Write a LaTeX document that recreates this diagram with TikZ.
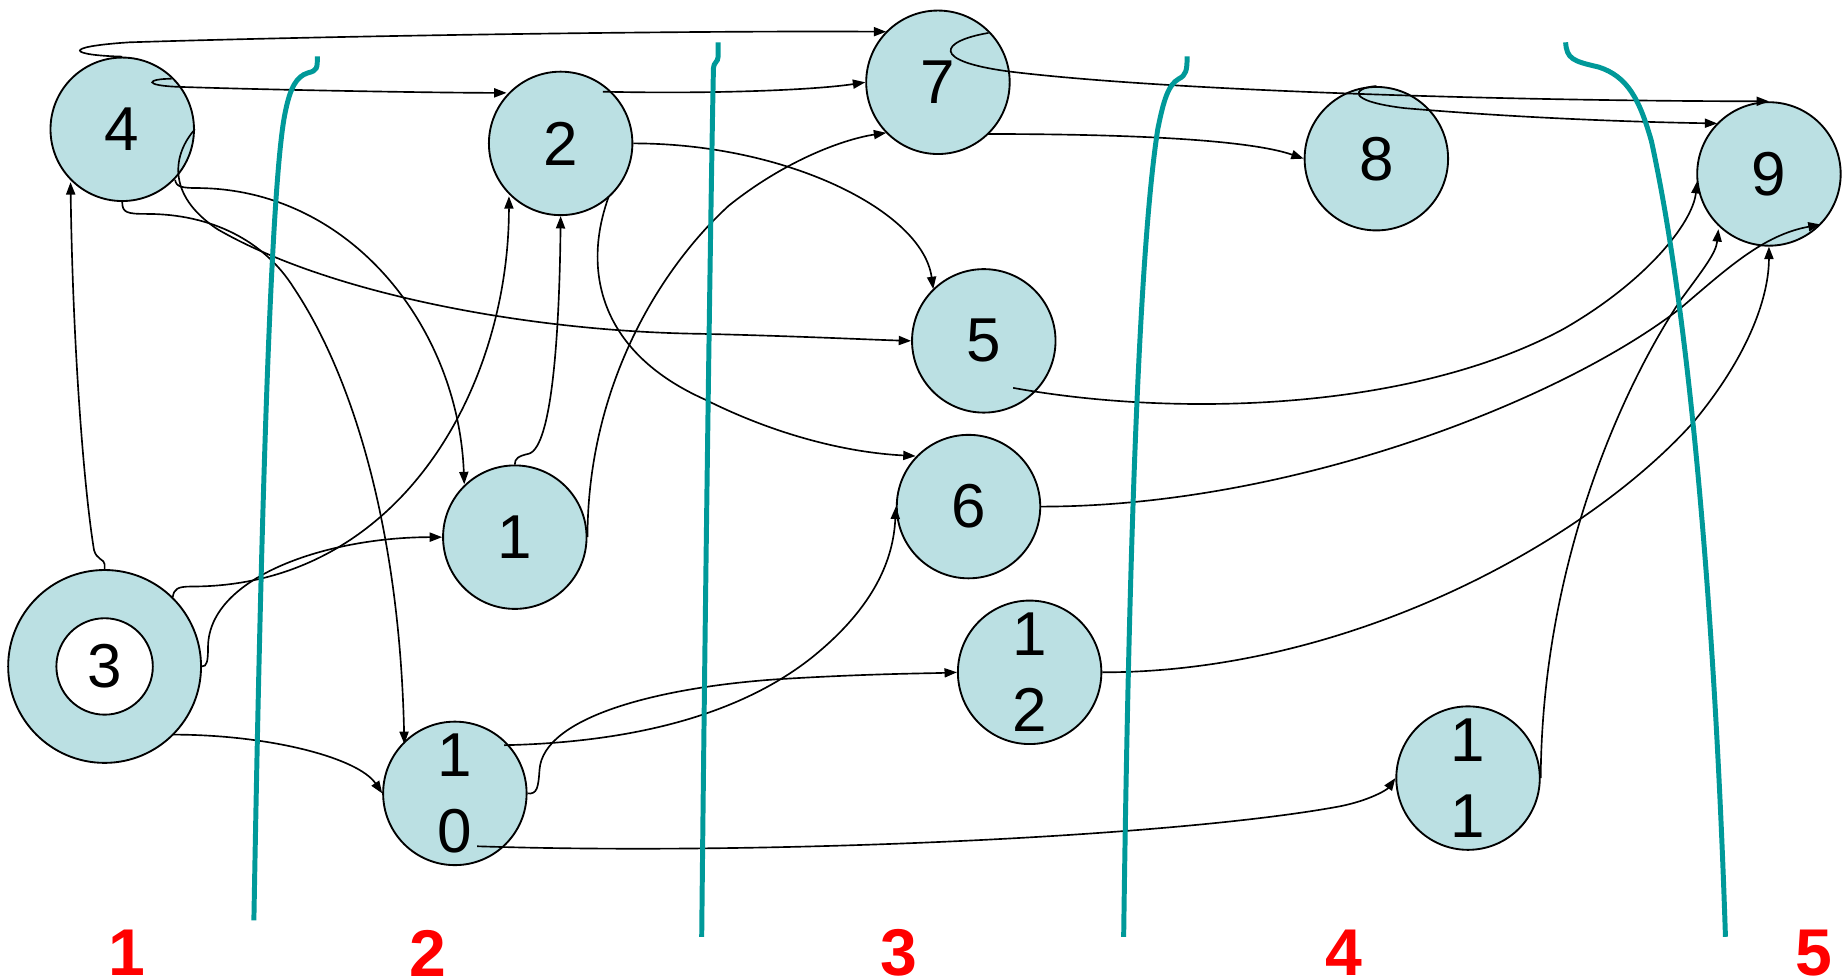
\documentclass[tikz,border=0pt]{standalone}
\usepackage{fontspec}
\setmainfont{Liberation Sans}
\usetikzlibrary{calc,arrows.meta}
\definecolor{nodefill}{RGB}{187,224,227}
\definecolor{divteal}{RGB}{0,153,153}
\definecolor{lblred}{RGB}{255,0,0}
\begin{document}
\begin{tikzpicture}[x=0.01cm,y=-0.01cm,
  vertex/.style={circle,draw=black,line width=0.45pt,fill=nodefill,minimum size=1.22cm,inner sep=0pt,font=\fontsize{15pt}{18.5pt}\selectfont,align=center},
  edge/.style={line width=0.4pt,-{Triangle[length=3pt,width=2.2pt]}},
  divider/.style={line width=1.2pt,draw=divteal},
  lbl/.style={text=lblred,inner sep=0pt,font=\fontsize{16pt}{18pt}\selectfont\bfseries}]
\useasboundingbox (0,0) rectangle (1568,833);

% nodes
\node[vertex] (n4) at (104,110) {4};
\node[vertex] (n2) at (477,122) {2};
\node[vertex] (n7) at (798,70) {7};
\node[vertex] (n8) at (1171,135) {8};
\node[vertex] (n9) at (1505,148) {9};
\node[vertex] (n5) at (837,290) {5};
\node[vertex] (n6) at (824,431) {6};
\node[vertex] (n1) at (438,457) {1};
\node[vertex,minimum size=1.64cm] (n3) at (89,567) {};
\node[vertex,fill=white,minimum size=0.82cm] (n3i) at (89,567) {3};
\node[vertex] (n10) at (387,675) {1\\0};
\node[vertex] (n12) at (876,572) {1\\2};
\node[vertex] (n11) at (1249,662) {1\\1};

% edges
% 3 -> 4
\draw[edge] (n3.north) -- (89,480) .. controls (89,476) and (82,476) .. (80,468)
  .. controls (72,420) and (62,300) .. ($(n4)+(-44,45)$);
% 3 -> 2
\draw[edge] ($(n3)+(58,-59)$) .. controls (148,501) and (151,499) .. (163,499)
  .. controls (340,499) and (433,330) .. ($(n2)+(-44,45)$);
% 3 -> 1
\draw[edge] (n3.east) .. controls (176,567) and (177,563) .. (177,550)
  .. controls (178,490) and (280,457) .. (n1.west);
% 3 -> 10
\draw[edge] ($(n3)+(58,58)$) .. controls (230,625) and (305,645) .. (n10.west);
% 4 -> 2
\draw[edge] ($(n4)+(42,-43)$) .. controls (125,67) and (120,73) .. (155,74)
  .. controls (250,77) and (380,79) .. ($(n2)+(-46,-43)$);
% 4 -> 7 (top)
\draw[edge] (n4.north) .. controls (60,47) and (50,40) .. (110,36)
  .. controls (300,30) and (600,26) .. ($(n7)+(-44,-43)$);
% 2 -> 7
\draw[edge] ($(n2)+(36,-44)$) .. controls (600,80) and (690,77) .. (n7.west);
% 7 -> 8
\draw[edge] ($(n7)+(42,44)$) .. controls (950,114) and (1060,118) .. (n8.west);
% 7 -> 9
\draw[edge] ($(n7)+(43,-42)$) .. controls (800,35) and (790,52) .. (860,61)
  .. controls (1000,78) and (1300,86) .. (n9.north);
% 8 -> 9
\draw[edge] (n8.north) .. controls (1150,75) and (1145,86) .. (1195,92)
  .. controls (1300,101) and (1400,104) .. ($(n9)+(-44,-43)$);
% 2 -> 5
\draw[edge] (n2.east) .. controls (670,122) and (785,180) .. ($(n5)+(-43,-44)$);
% 2 -> 6
\draw[edge] ($(n2)+(41,45)$) .. controls (495,230) and (510,300) .. (600,340)
  .. controls (660,370) and (720,385) .. ($(n6)+(-45,-43)$);
% 4 -> 5
\draw[edge] (n4.east) .. controls (148,130) and (140,165) .. (185,195)
  .. controls (280,250) and (450,282) .. (596,284)
  .. controls (680,286) and (740,289) .. (n5.west);
% 4 -> 10
\draw[edge] (n4.south) .. controls (104,181) and (108,182) .. (125,182)
  .. controls (180,182) and (225,205) .. (250,245)
  .. controls (300,320) and (340,450) .. ($(n10)+(-43,-42)$);
% 4 -> 1
\draw[edge] ($(n4)+(45,43)$) .. controls (150,159) and (154,160) .. (170,160)
  .. controls (300,162) and (390,280) .. ($(n1)+(-43,-45)$);
% 1 -> 2
\draw[edge] (n1.north) .. controls (438,390) and (441,388) .. (450,386)
  .. controls (470,380) and (476,280) .. (n2.south);
% 1 -> 7
\draw[edge] (n1.east) .. controls (500,330) and (560,230) .. (620,175)
  .. controls (670,135) and (720,118) .. ($(n7)+(-44,43)$);
% 10 -> 6
\draw[edge] ($(n10)+(42,-41)$) .. controls (520,632) and (620,615) .. (690,560)
  .. controls (740,520) and (760,480) .. (n6.west);
% 10 -> 12
\draw[edge] (n10.east) .. controls (457,676) and (458,670) .. (459,655)
  .. controls (462,610) and (560,585) .. (660,578)
  .. controls (740,573) and (790,573) .. (n12.west);
% 10 -> 11
\draw[edge] ($(n10)+(19,45)$) .. controls (650,728) and (1000,712) .. (1140,686)
  .. controls (1165,681) and (1180,672) .. (n11.west);
% 5 -> 9
\draw[edge] ($(n5)+(25,40)$) .. controls (1000,355) and (1200,350) .. (1330,280)
  .. controls (1400,240) and (1440,190) .. ($(n9)+(-61,6)$);
% 6 -> 9
\draw[edge] (n6.east) .. controls (1100,431) and (1330,340) .. (1430,262)
  .. controls (1470,228) and (1500,200) .. ($(n9)+(44,43)$);
% 12 -> 9
\draw[edge] (n12.east) .. controls (1150,572) and (1350,460) .. (1440,360)
  .. controls (1490,300) and (1505,250) .. (n9.south);
% 11 -> 9
\draw[edge] (n11.east) .. controls (1312,480) and (1380,330) .. (1430,255)
  .. controls (1450,228) and (1460,215) .. ($(n9)+(-43,47)$);

% dividers
\draw[divider] (216,783) .. controls (220,560) and (228,160) .. (243,94)
  .. controls (247,75) and (252,65) .. (262,62)
  .. controls (270,60) and (270,58) .. (270,48);
\draw[divider] (597,797) .. controls (600,500) and (605,150) .. (607,58)
  .. controls (607,53) and (611,53) .. (611,48) -- (611,36);
\draw[divider] (956,797) .. controls (960,500) and (968,220) .. (985,110)
  .. controls (990,85) and (994,72) .. (1003,67)
  .. controls (1009,64) and (1010,60) .. (1010,48);
\draw[divider] (1468,797) .. controls (1460,550) and (1440,280) .. (1405,120)
  .. controls (1395,85) and (1385,65) .. (1360,57)
  .. controls (1338,52) and (1333,50) .. (1332,36);

% column labels
\node[lbl] (L1) at (108,811) {1};
\node[lbl] (L2) at (364,811) {2};
\node[lbl] (L3) at (765,811) {3};
\node[lbl] (L4) at (1143,811) {4};
\node[lbl] (L5) at (1543,811) {5};
\end{tikzpicture}
\end{document}
